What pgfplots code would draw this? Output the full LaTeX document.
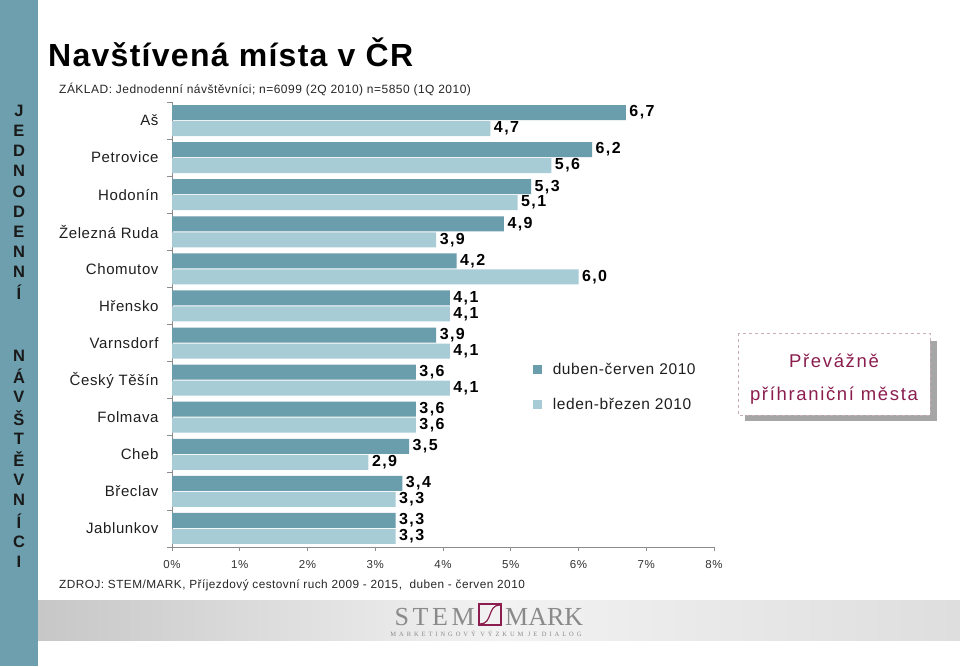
\documentclass[border=0pt]{standalone}
\usepackage{pgfplots}
\pgfplotsset{compat=1.18}
\usepackage{pgfplotstable}
\usepackage{fontspec}
\setmainfont{Liberation Sans}[LetterSpace=4]
\newfontfamily\valfont{Liberation Sans}[LetterSpace=9]
\newfontfamily\titlefont{Liberation Sans}[LetterSpace=4]
\newfontfamily\boxfont{Liberation Sans}[LetterSpace=9]
\newfontfamily\logofont{Liberation Serif}[LetterSpace=14]
\newfontfamily\logofontb{Liberation Serif}[LetterSpace=0]
\newfontfamily\logosmall{Liberation Serif}[LetterSpace=45]
\definecolor{dark}{HTML}{6B9EAC}
\definecolor{light}{HTML}{A8CCD5}
\definecolor{strip}{HTML}{6D9FAE}
\definecolor{mag}{HTML}{8B1E4E}
\definecolor{logogray}{HTML}{8A8A8A}
\definecolor{boxedge}{HTML}{C8AEB8}

\pgfplotstableread{
i v
0 6.7
1 6.2
2 5.3
3 4.9
4 4.2
5 4.1
6 3.9
7 3.6
8 3.6
9 3.5
10 3.4
11 3.3
}\dubencerven
\pgfplotstableread{
i v
0 4.7
1 5.6
2 5.1
3 3.9
4 6.0
5 4.1
6 4.1
7 4.1
8 3.6
9 2.9
10 3.3
11 3.3
}\ledenbrezen

\begin{document}
\begin{tikzpicture}
\useasboundingbox (0pt,0pt) rectangle (960pt,-666pt);
\fill[white] (0pt,0pt) rectangle (960pt,-666pt);
% left strip
\fill[strip] (0pt,0pt) rectangle (38pt,-666pt);
% footer band
\shade[left color=black!22, right color=black!13, middle color=black!5] (38pt,-600pt) rectangle (960pt,-640pt);
% vertical letters
\foreach \L [count=\k from 0] in {J,E,D,N,O,D,E,N,N,Í}{
  \node[font=\fontsize{16.5}{15}\selectfont\bfseries, text=black!90] at (19pt,{-111pt-20.1pt*\k}) {\L};
}
\foreach \L [count=\k from 0] in {N,Á,V,Š,T,Ě,V,N,Í,C,I}{
  \node[font=\fontsize{16.5}{15}\selectfont\bfseries, text=black!90] at (19pt,{-356pt-20.6pt*\k}) {\L};
}
% title
\node[anchor=base west, inner sep=0pt, font=\fontsize{32}{34}\selectfont\bfseries\titlefont] at (48pt,-67pt) {Navštívená místa v ČR};
\node[anchor=base west, inner sep=0pt, font=\fontsize{12}{13}\selectfont, text=black!85] at (59pt,-94pt) {ZÁKLAD: Jednodenní návštěvníci; n=6099 (2Q 2010) n=5850 (1Q 2010)};
\node[anchor=base west, inner sep=0pt, font=\fontsize{11.8}{13}\selectfont, text=black!85] at (59pt,-588pt) {ZDROJ: STEM/MARK, Příjezdový cestovní ruch 2009 - 2015,\ \ duben - červen 2010};

\begin{axis}[
  at={(172pt,-547pt)}, anchor=south west,
  scale only axis, width=542pt, height=445pt,
  xbar,
  xmin=0, xmax=8, ymin=-0.5, ymax=11.5, y dir=reverse,
  axis x line*=bottom, axis y line*=left,
  axis line style={black!45, line width=0.7pt},
  xtick={0,1,2,3,4,5,6,7,8},
  xticklabels={0\%,1\%,2\%,3\%,4\%,5\%,6\%,7\%,8\%},
  ytick={0,1,2,3,4,5,6,7,8,9,10,11},
  yticklabels={Aš,Petrovice,Hodonín,Železná Ruda,Chomutov,Hřensko,Varnsdorf,Český Těšín,Folmava,Cheb,Břeclav,Jablunkov},
  minor ytick={-0.5,0.5,...,11.5},
  tick align=outside,
  major tick length=4pt, minor tick length=5pt,
  major y tick style={draw=none},
  minor y tick style={black!45, line width=0.7pt},
  major x tick style={black!45, line width=0.7pt},
  yticklabel style={font=\fontsize{15}{17}\selectfont, text=black!88, xshift=-6pt},
  xticklabel style={font=\fontsize{11.5}{12}\selectfont, text=black!80, yshift=-6pt},
  bar width=15pt,
  nodes near coords={\pgfmathprintnumber[fixed,fixed zerofill,precision=1,use comma,assume math mode=true]{\pgfplotspointmeta}},
  every node near coord/.append style={font=\fontsize{16}{17}\selectfont\bfseries\valfont, text=black, anchor=west, xshift=0pt},
  point meta=x,
  legend style={draw=none, fill=none, at={(0.666,0.418)}, anchor=north west,
    font=\fontsize{15.5}{17}\selectfont, text=black!88, row sep=18pt, inner sep=0pt,
    /tikz/every odd column/.append style={column sep=9pt}},
  legend cell align=left,
  legend image code/.code={\fill[#1,draw=none] (0pt,-4.3pt) rectangle (8.6pt,4.3pt);},
  clip=false,
]
\addplot[fill=dark, draw=none, bar shift=8pt] table[x=v,y=i] {\dubencerven};
\addlegendentry{duben-červen 2010}
\addplot[fill=light, draw=none, bar shift=-8pt] table[x=v,y=i] {\ledenbrezen};
\addlegendentry{leden-březen 2010}
\end{axis}

% callout box
\fill[black!35] (745pt,-341pt) rectangle (937pt,-421pt);
\fill[white] (738pt,-333pt) rectangle (930pt,-415pt);
\draw[boxedge, dashed, line width=0.6pt] (738pt,-333pt) rectangle (930pt,-415pt);
\node[font=\fontsize{18.5}{20}\selectfont\boxfont, text=mag] at (834pt,-361pt) {Převážně};
\node[font=\fontsize{18.5}{20}\selectfont\boxfont, text=mag] at (834pt,-396pt) {příhraniční města};

% logo
\node[anchor=base east, inner sep=0pt, font=\fontsize{26}{28}\selectfont\logofont, text=logogray] at (475pt,-625pt) {STEM};
\node[anchor=base west, inner sep=0pt, font=\fontsize{26}{28}\selectfont\logofontb, text=logogray] at (505pt,-625pt) {MARK};
\draw[mag, line width=1.6pt] (479pt,-604pt) rectangle (501pt,-625pt);
\draw[mag, line width=1.2pt] (480pt,-624pt) .. controls (493pt,-624pt) and (487pt,-605pt) .. (500pt,-605pt);
\node[anchor=base, inner sep=0pt, font=\fontsize{6.5}{7}\selectfont\logosmall, text=logogray] at (486pt,-636pt) {MARKETINGOVÝ VÝZKUM JE DIALOG};
\end{tikzpicture}
\end{document}
